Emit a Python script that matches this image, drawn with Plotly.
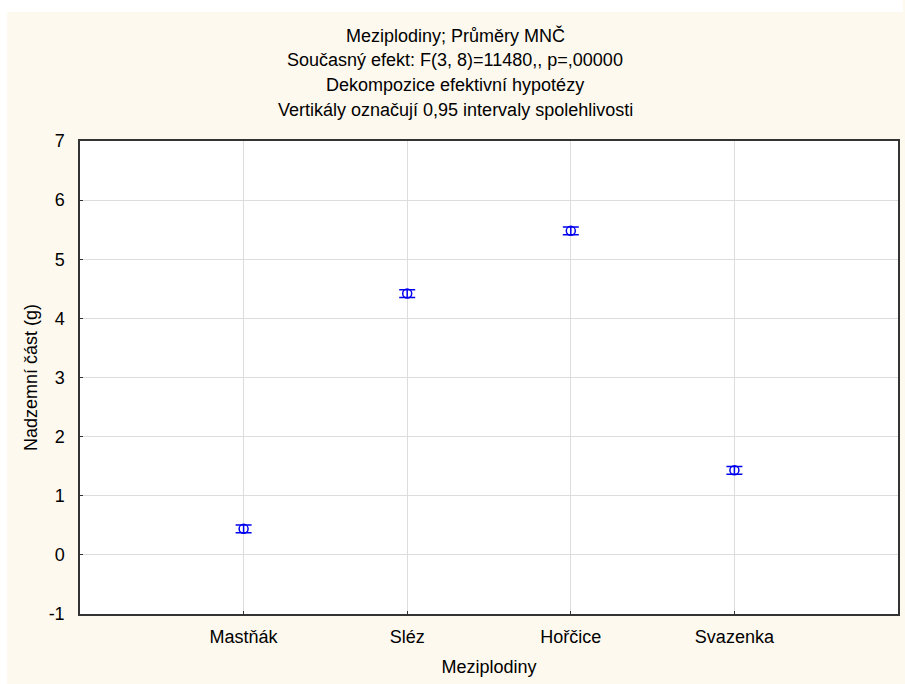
import plotly.graph_objects as go

categories = ["Mastňák", "Sléz", "Hořčice", "Svazenka"]
positions = [1, 2, 3, 4]
means = [0.44, 4.42, 5.48, 1.43]
ci_half = [0.065, 0.065, 0.065, 0.065]
y_ticks = [-1, 0, 1, 2, 3, 4, 5, 6, 7]
y_ticktext = ["-1", "0", "1", "2", "3", "4", "5", "6", "7"]

title_lines = [
    "Meziplodiny; Průměry MNČ",
    "Současný efekt: F(3, 8)=11480,, p=,00000",
    "Dekompozice efektivní hypotézy",
    "Vertikály označují 0,95 intervaly spolehlivosti",
]

W, H = 905, 684
L, R, T, B = 80, 5, 141, 70
pw, ph = W - L - R, H - T - B
title_cx = 456

fig = go.Figure()
fig.add_trace(go.Scatter(
    x=positions, y=means, mode="markers",
    marker=dict(symbol="circle-open", size=9, color="#0000EE", line=dict(width=1.5, color="#0000EE")),
    error_y=dict(type="data", array=ci_half, color="#0000EE", thickness=1.5, width=8),
    showlegend=False,
))

font = dict(family="Arial", size=18, color="#000")

for i, line in enumerate(title_lines):
    fig.add_annotation(text=line, xref="paper", yref="paper", x=(title_cx - L) / pw,
                       y=1 + (T - 36 - i * 24.5) / ph, xanchor="center", yanchor="middle",
                       showarrow=False, font=font)

fig.update_layout(
    width=W, height=H,
    margin=dict(l=L, r=R, t=T, b=B),
    paper_bgcolor="#FEF9EE", plot_bgcolor="#FFFFFF",
    font=font,
    shapes=[
        dict(type="rect", xref="paper", yref="paper", x0=-L / pw, x1=1 + R / pw,
             y0=1 + (T - 12) / ph, y1=1 + T / ph, fillcolor="#FFFFFF", line=dict(width=0), layer="below"),
        dict(type="rect", xref="paper", yref="paper", x0=-L / pw, x1=-(L - 7) / pw,
             y0=-B / ph, y1=1 + T / ph, fillcolor="#FFFFFF", line=dict(width=0), layer="below"),
    ],
    xaxis=dict(range=[0, 5], tickvals=positions, ticktext=categories,
               showgrid=True, gridcolor="#DDDDDD", gridwidth=1,
               showline=True, linecolor="#333333", linewidth=1.5, mirror=True,
               ticks="inside", ticklen=3, tickcolor="#333333", zeroline=False,
               ticklabelstandoff=6,
               title=dict(text="Meziplodiny", standoff=14, font=font), tickfont=font),
    yaxis=dict(range=[-1, 7], tickvals=y_ticks, ticktext=y_ticktext,
               showgrid=True, gridcolor="#DDDDDD", gridwidth=1,
               showline=True, linecolor="#333333", linewidth=1.5, mirror=True,
               ticks="inside", ticklen=3, tickcolor="#333333", zeroline=False,
               ticklabelstandoff=10,
               title=dict(text="Nadzemní část (g)", standoff=6, font=font), tickfont=font),
)

fig.write_html("out.html")
